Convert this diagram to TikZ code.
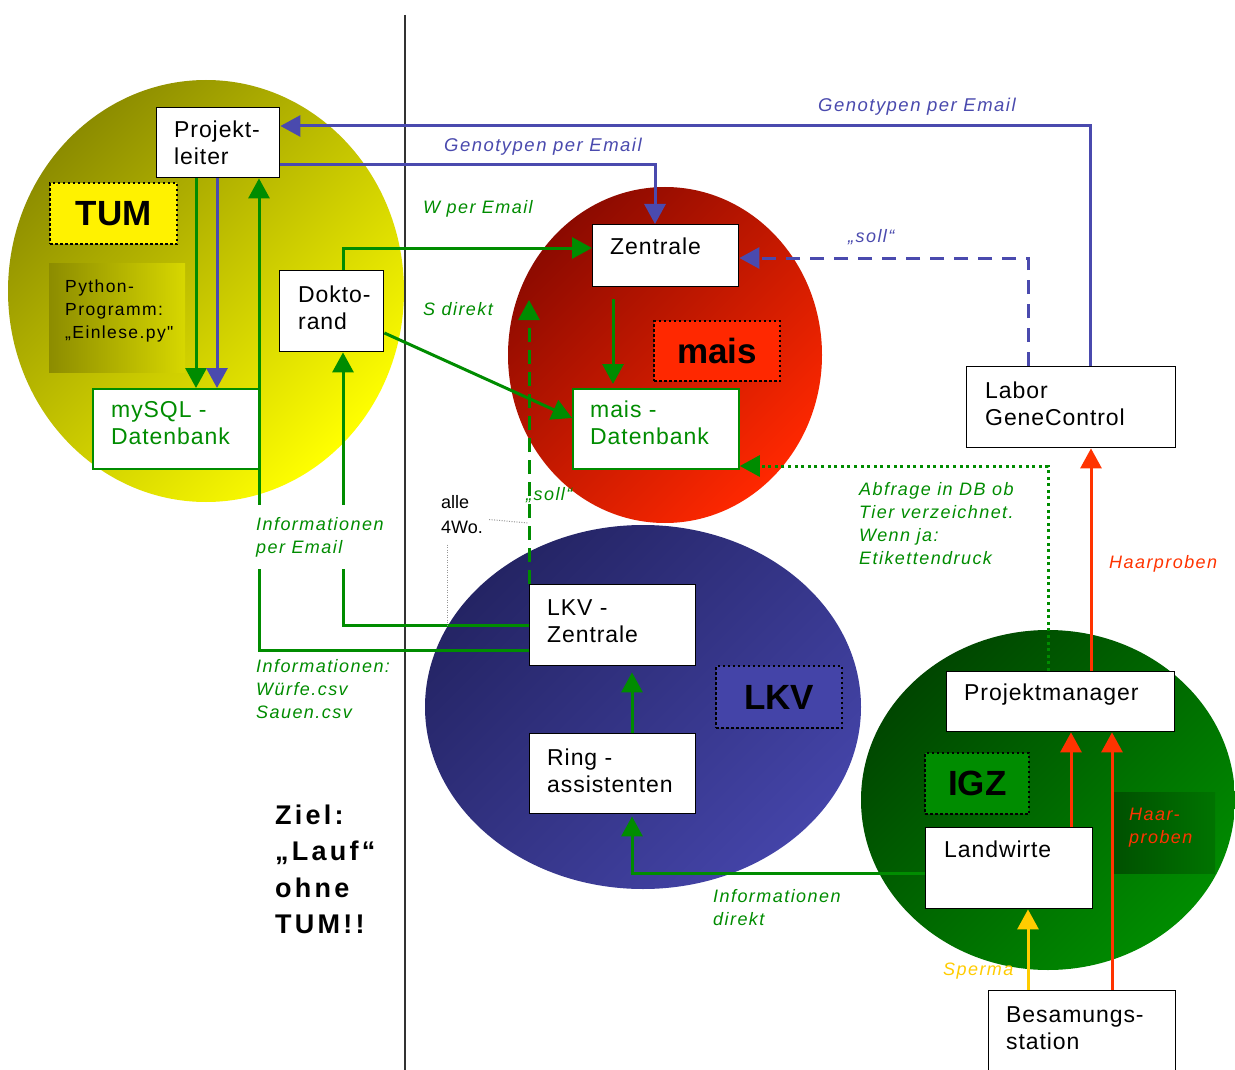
\documentclass[tikz,border=0pt]{standalone}
\usepackage{fontspec}
\setmainfont{Liberation Sans}[LetterSpace=4]
\newfontfamily\lblfont{Liberation Sans}[LetterSpace=8]
\newfontfamily\zielfont{Liberation Sans}[LetterSpace=12]
\newfontfamily\plainfont{Liberation Sans}
\usetikzlibrary{arrows.meta,calc}
\definecolor{cblue}{RGB}{74,74,174}
\definecolor{cgreen}{RGB}{0,140,0}
\definecolor{cred}{RGB}{255,51,0}
\definecolor{cyel}{RGB}{255,204,0}
\definecolor{tumdark}{RGB}{140,140,0}
\definecolor{tummid}{RGB}{215,215,0}
\definecolor{tumlight}{RGB}{255,255,0}
\definecolor{maisdark}{RGB}{140,10,0}
\definecolor{maismid}{RGB}{210,30,0}
\definecolor{maislight}{RGB}{255,40,0}
\definecolor{lkvdark}{RGB}{36,36,100}
\definecolor{lkvlight}{RGB}{68,68,168}
\definecolor{igzdark}{RGB}{0,70,0}
\definecolor{igzlight}{RGB}{0,140,0}
\definecolor{grayline}{RGB}{150,150,150}
\newcommand\bt{\fontsize{23}{27}\selectfont}
\newcommand\lf{\lblfont\itshape\fontsize{18}{23}\selectfont}
\newcommand\blf{\lblfont\itshape\fontsize{18.5}{23}\selectfont}
\newcommand\tl[1]{\begin{tabular}[t]{@{}l@{}}#1\end{tabular}}
\tikzset{
  box/.style={draw=black, fill=white, line width=1.4pt, inner sep=0pt, anchor=north west},
  dbbox/.style={draw=cgreen, fill=white, line width=1.8pt, inner sep=0pt, anchor=north west},
  txt/.style={anchor=base west, inner sep=0pt, font=\bt},
  lbl/.style={anchor=base west, inner sep=0pt},
  tagbox/.style={draw=black, line width=2.4pt, dash pattern=on 2.4pt off 2.6pt, inner sep=0pt, anchor=north west, font=\bfseries\plainfont\fontsize{35}{40}\selectfont},
  tip/.style={-{Triangle[length=20pt,width=21pt]}},
  garrow/.style={tip, draw=cgreen, line width=3pt},
  barrow/.style={tip, draw=cblue, line width=3pt},
  rarrow/.style={tip, draw=cred, line width=3pt},
  yarrow/.style={tip, draw=cyel, line width=3pt},
}
\begin{document}
\begin{tikzpicture}[x=1pt,y=-1pt]
\useasboundingbox (0,0) rectangle (1235,1070);
\fill[white] (0,0) rectangle (1235,1070);
% circles
\shade[top color=tumdark, middle color=tummid, bottom color=tumlight, shading angle=45] (206,291) ellipse [x radius=198pt, y radius=211pt];
\shade[top color=maisdark, middle color=maismid, bottom color=maislight, shading angle=45] (665,355) ellipse [x radius=157pt, y radius=168pt];
\shade[top color=lkvdark, bottom color=lkvlight, shading angle=45] (643,707) ellipse [x radius=218pt, y radius=182pt];
\shade[top color=igzdark, bottom color=igzlight, shading angle=45] (1048,800) ellipse [x radius=187pt, y radius=170pt];
% shaded panels
\shade[left color=tumdark, right color=tummid] (49,263) rectangle (185,372);
\shade[left color=igzdark!85!igzlight, right color=igzdark!35!igzlight] (1114,792) rectangle (1215,873);
% separator
\draw[line width=1.5pt, black!80] (405,15) -- (405,1070);
% tag boxes
\node[tagbox, fill=yellow, minimum width=127pt, minimum height=61pt] (tum) at (49,182) {TUM};
\node[tagbox, fill=maislight, minimum width=126pt, minimum height=60pt] (maistag) at (653,320) {mais};
\node[tagbox, fill=lkvlight, minimum width=126pt, minimum height=62pt] (lkvtag) at (715,665) {LKV};
\node[tagbox, fill=igzlight, minimum width=104pt, minimum height=61pt] (igztag) at (924,752) {IGZ};
% boxes
\node[box, minimum width=123pt, minimum height=70pt] (pl) at (156,107) {};
\node[box, minimum width=104pt, minimum height=81pt] (dok) at (279,270) {};
\node[dbbox, minimum width=166pt, minimum height=80pt] (mysql) at (92,388) {};
\node[box, minimum width=146pt, minimum height=62pt] (zen) at (592,224) {};
\node[dbbox, minimum width=166pt, minimum height=80pt] (mdb) at (572,388) {};
\node[box, minimum width=209pt, minimum height=81pt] (labor) at (966,366) {};
\node[box, minimum width=166pt, minimum height=81pt] (lkvz) at (529,584) {};
\node[box, minimum width=166pt, minimum height=80pt] (ring) at (529,733) {};
\node[box, minimum width=228pt, minimum height=60pt] (pm) at (946,671) {};
\node[box, minimum width=167pt, minimum height=81pt] (lw) at (925,827) {};
\node[box, minimum width=187pt, minimum height=90pt] (bes) at (988,990) {};
% box texts
\node[txt] (plt) at (174,138) {\tl{Projekt-\\leiter}};
\node[txt] (dokt) at (298,302) {\tl{Dokto-\\rand}};
\node[txt, text=cgreen] (mysqlt) at (111,417) {\tl{mySQL -\\Datenbank}};
\node[txt] (zent) at (610,254) {Zentrale};
\node[txt, text=cgreen] (mdbt) at (590,417) {\tl{mais -\\Datenbank}};
\node[txt] (labort) at (985,398) {\tl{Labor\\GeneControl}};
\node[txt] (lkvzt) at (547,615) {\tl{LKV -\\Zentrale}};
\node[txt] (ringt) at (547,765) {\tl{Ring -\\assistenten}};
\node[txt] (pmt) at (964,700) {Projektmanager};
\node[txt] (lwt) at (944,857) {Landwirte};
\node[txt] (best) at (1006,1022) {\tl{Besamungs-\\station}};
\node[lbl, font=\lblfont\fontsize{17.5}{23}\selectfont] (py) at (65,292) {\tl{Python-\\Programm:\\„Einlese.py"}};
% connectors
\coordinate (sollTip) at (529,300);
\draw[barrow] ([xshift=124pt]labor.north west) |- ([yshift=-19pt]pl.north east);
\draw[barrow] ([yshift=-58pt]pl.north east) -| ([xshift=63pt]zen.north west);
\draw[barrow, dash pattern=on 14pt off 10pt] ([xshift=62pt]labor.north west) |- ([yshift=-34pt]zen.north east);
\draw[garrow] ([xshift=40pt]pl.south west) -- ([xshift=104pt]mysql.north west);
\draw[barrow] ([xshift=61pt]pl.south west) -- ([xshift=125pt]mysql.north west);
\draw[garrow] ([yshift=-66pt]lkvz.north west) -| ([xshift=103pt]pl.south west);
\draw[garrow] ([yshift=-41pt]lkvz.north west) -| ([xshift=64pt]dok.south west);
\draw[garrow] ([xshift=64pt]dok.north west) |- ([yshift=-24pt]zen.north west);
\draw[garrow] ([yshift=-63pt]dok.north east) -- ([yshift=-30pt]mdb.north west);
\draw[garrow] ([xshift=21pt,yshift=-12pt]zen.south west) -- ([xshift=41pt,yshift=4pt]mdb.north west);
\draw[garrow, dash pattern=on 14pt off 8pt] (lkvz.north west) -- (sollTip);
\draw[garrow] ([xshift=103pt]ring.north west) -- ([xshift=103pt,yshift=-6pt]lkvz.south west);
\draw[garrow] ([yshift=-46pt]lw.north west) -| ([xshift=103pt,yshift=-2pt]ring.south west);
\draw[garrow, line width=3pt, dash pattern=on 3pt off 3.6pt] ([xshift=102pt]pm.north west) |- ([yshift=-78pt]mdb.north east);
\draw[rarrow] ([xshift=145pt]pm.north west) -- ([xshift=125pt]labor.south west);
\draw[rarrow] ([xshift=146pt]lw.north west) -- ([xshift=125pt]pm.south west);
\draw[rarrow] ([xshift=124pt]bes.north west) -- ([xshift=166pt]pm.south west);
\draw[yarrow] ([xshift=40pt]bes.north west) -- ([xshift=103pt]lw.south west);
% alle 4Wo.
\node[lbl, font=\plainfont\fontsize{18}{25}\selectfont] (alle) at (441,508) {\tl{alle\\4Wo.}};
\coordinate (alleA) at (528,523);
\coordinate (alleB) at (447,625);
\draw[grayline, line width=1pt, dash pattern=on 1pt off 1.5pt] ([xshift=6pt,yshift=-4pt]alle.east) -- (alleA);
\draw[grayline, line width=1pt, dash pattern=on 1pt off 1.5pt] ([xshift=6pt,yshift=-4pt]alle.south west) -- (alleB);
% labels
\node[lbl, text=cblue, font=\blf] (g1) at (818,112) {Genotypen per Email};
\node[lbl, text=cblue, font=\blf] (g2) at (444,152) {Genotypen per Email};
\node[lbl, text=cblue, font=\lf] (soll1) at (848,242) {„soll“};
\node[lbl, text=cgreen, font=\lf] (wmail) at (423,213) {W per Email};
\node[lbl, text=cgreen, font=\lf] (sdir) at (423,315) {S direkt};
\node[lbl, text=cgreen, font=\lf] (soll2) at (526,500) {„soll“};
\node[lbl, text=cgreen, font=\lf, fill=white, inner xsep=1pt, inner ysep=9pt] (infomail) at (255,530) {\tl{Informationen\\per Email}};
\node[lbl, text=cgreen, font=\lf] (infocsv) at (256,672) {\tl{Informationen:\\Würfe.csv\\Sauen.csv}};
\node[lbl, text=cgreen, font=\lf] (abfrage) at (859,495) {\tl{Abfrage in DB ob\\Tier verzeichnet.\\Wenn ja:\\Etikettendruck}};
\node[lbl, text=cgreen, font=\lf] (infodir) at (713,902) {\tl{Informationen\\direkt}};
\node[lbl, text=cred, font=\lf] (haar1) at (1109,568) {Haarproben};
\node[lbl, text=cred, font=\lf] (haar2) at (1129,820) {\tl{Haar-\\proben}};
\node[lbl, text=cyel, font=\lf] (sperma) at (943,975) {Sperma};
\node[lbl, font=\zielfont\bfseries\fontsize{27}{36.5}\selectfont] (ziel) at (275,824) {\tl{Ziel:\\„Lauf“\\ohne\\TUM!!}};
\end{tikzpicture}
\end{document}
